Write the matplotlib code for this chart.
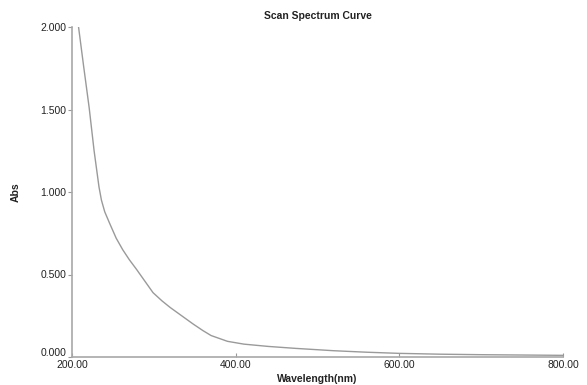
import matplotlib
matplotlib.use("Agg")
import matplotlib.pyplot as plt
import matplotlib.transforms as mtransforms

# absorbance scan
wavelength = [208, 214, 221, 227, 233, 236, 240, 246, 254, 262, 270, 279, 289,
              299, 310, 320, 334, 348, 360, 370, 390, 410, 440, 474, 520, 560,
              600, 650, 700, 750, 800]
absorbance = [2.0, 1.77, 1.51, 1.25, 1.03, 0.95, 0.88, 0.81, 0.72, 0.65, 0.59,
              0.53, 0.46, 0.39, 0.34, 0.30, 0.25, 0.20, 0.16, 0.13, 0.095,
              0.078, 0.064, 0.052, 0.038, 0.029, 0.022, 0.017, 0.014, 0.012,
              0.010]

x_ticks = [200, 400, 600, 800]
y_ticks = [0.0, 0.5, 1.0, 1.5, 2.0]

plt.rcParams["font.family"] = ["Liberation Sans", "DejaVu Sans"]

fig = plt.figure(figsize=(5.87, 3.85), dpi=100)
ax = fig.add_axes([72 / 587, 1 - 357 / 385, (563 - 72) / 587, (357 - 27) / 385])

ax.plot(wavelength, absorbance, color="#9a9a9a", linewidth=1.0)

ax.set_xlim(200, 800)
ax.set_ylim(0, 2.0)
ax.set_xticks(x_ticks)
ax.set_xticklabels([f"{v:.2f}" for v in x_ticks])
ax.set_yticks(y_ticks)
ax.set_yticklabels([f"{v:.3f}" for v in y_ticks])

ax.spines[["top", "right"]].set_visible(False)
for side in ["left", "bottom"]:
    ax.spines[side].set_color("#a8a8a8")
    ax.spines[side].set_linewidth(1.2)

ax.tick_params(axis="x", direction="in", length=3, color="#999999",
               labelsize=7.5, labelcolor="#222222", pad=2)
ax.tick_params(axis="y", direction="out", length=3, color="#999999",
               labelsize=7.5, labelcolor="#222222", pad=1)

# lift the 0.000 label a little so it clears 200.00, as in the original
zero_label = ax.get_yticklabels()[0]
zero_label.set_transform(zero_label.get_transform() +
                         mtransforms.ScaledTranslation(0, 5 / 100, fig.dpi_scale_trans))

ax.set_title("Scan Spectrum Curve", fontsize=7.5, fontweight="bold",
             color="#222222", pad=6)
ax.set_xlabel("Wavelength(nm)", fontsize=7.5, fontweight="bold",
              color="#222222", labelpad=3)
ax.set_ylabel("Abs", fontsize=7.5, fontweight="bold", color="#222222",
              labelpad=14)

fig.savefig("out.png", dpi=100)
